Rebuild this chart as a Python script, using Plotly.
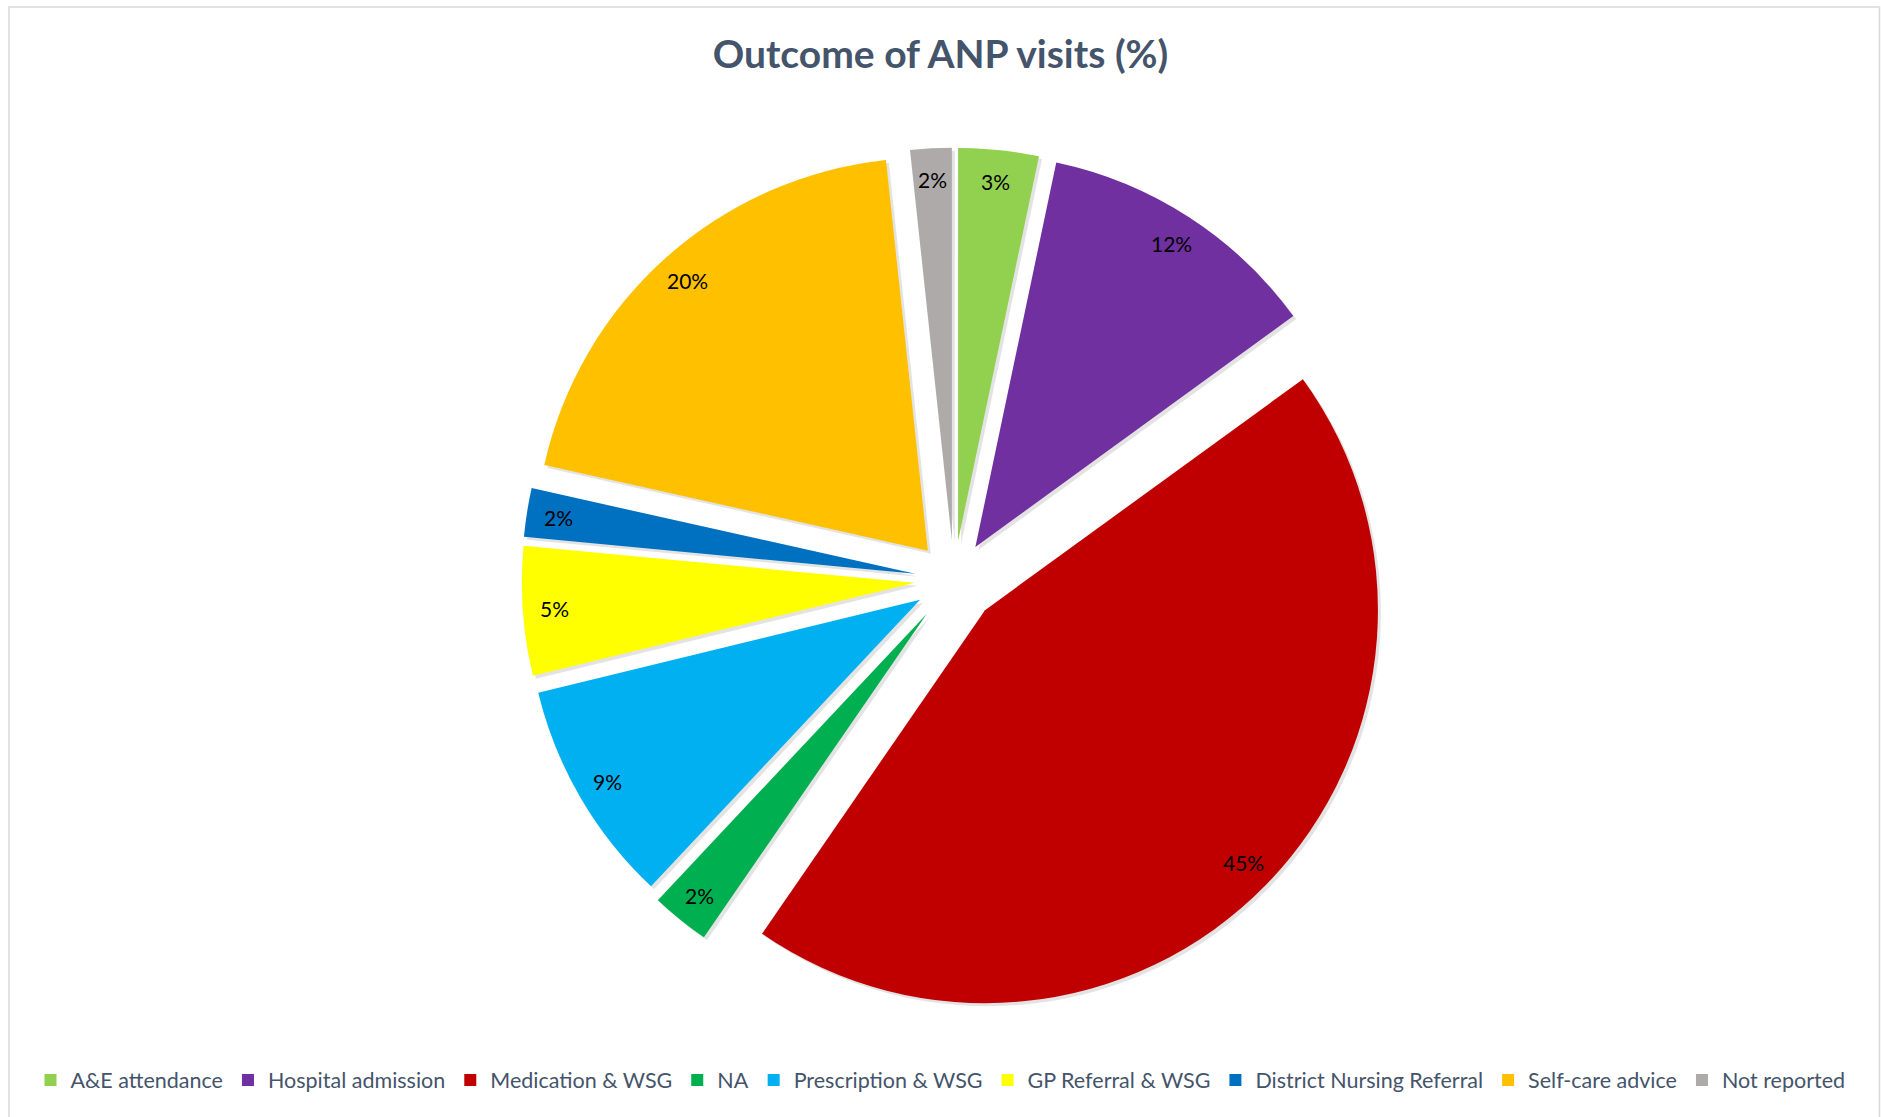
import math
import plotly.graph_objects as go

categories = ["A&E attendance", "Hospital admission", "Medication & WSG", "NA",
              "Prescription & WSG", "GP Referral & WSG", "District Nursing Referral",
              "Self-care advice", "Not reported"]
values = [3.3, 11.7, 44.6, 2.4, 9.2, 5.3, 2.0, 19.8, 1.7]
colors = ["#92D050", "#7030A0", "#C00000", "#00B050", "#00B0F0",
          "#FFFF00", "#0070C0", "#FFC000", "#AEAAAA"]
pulls = [0.10, 0.10, 0.11, 0.11, 0.10, 0.10, 0.10, 0.10, 0.10]
title_text = "Outcome of ANP visits (%)"

W, H = 1881, 1117
FONT = "Lato, 'Open Sans', sans-serif"

# pie geometry (pixels)
cx, cy, r = 954, 580, 393
ext = r * (1 + max(pulls))
dom_x = [(cx - ext) / W, (cx + ext) / W]
dom_y = [1 - (cy + ext) / H, 1 - (cy - ext) / H]
sh = 3
dom_x_s = [(cx - ext + sh) / W, (cx + ext + sh) / W]
dom_y_s = [1 - (cy + ext + sh) / H, 1 - (cy - ext + sh) / H]

fig = go.Figure()
# soft shadow
fig.add_trace(go.Pie(
    labels=categories, values=values, sort=False, direction="clockwise",
    rotation=0, pull=pulls, domain=dict(x=dom_x_s, y=dom_y_s),
    marker=dict(colors=["rgba(0,0,0,0.11)"] * len(values), line=dict(width=0)),
    textinfo="none", hoverinfo="skip", showlegend=False,
))
fig.add_trace(go.Pie(
    labels=categories, values=values, sort=False, direction="clockwise",
    rotation=0, pull=pulls, domain=dict(x=dom_x, y=dom_y),
    marker=dict(colors=colors, line=dict(width=0)),
    textinfo="none",
    showlegend=True,
))

# data labels placed near the outer rim, like Excel's best-fit labels
total = sum(values)
annotations = []
cum = 0.0
for v, p in zip(values, pulls):
    mid = (cum + v / 2) / total * 2 * math.pi
    cum += v
    rad = (p + 0.92) * r
    x = cx + rad * math.sin(mid)
    y = cy - rad * math.cos(mid)
    annotations.append(dict(
        x=x / W, y=1 - y / H, xref="paper", yref="paper",
        text=f"{round(v / total * 100)}%", showarrow=False,
        xanchor="center", yanchor="middle",
        font=dict(family=FONT, size=21, color="#000000")))

fig.update_layout(
    width=W, height=H,
    margin=dict(l=0, r=0, t=0, b=0),
    paper_bgcolor="white", plot_bgcolor="white",
    title=dict(text="<b>" + title_text + "</b>", x=0.5, xanchor="center",
               y=1 - 54 / H, yanchor="middle",
               font=dict(family=FONT, size=39, color="#44546A")),
    legend=dict(orientation="h", x=0.5, xanchor="center",
                y=1 - 1080 / H, yanchor="middle",
                font=dict(family=FONT, size=21.5, color="#44546A"),
                itemwidth=30, tracegroupgap=0, traceorder="normal"),
    annotations=annotations,
    shapes=[dict(type="rect", xref="paper", yref="paper",
                 x0=9 / W, x1=1 - 1.5 / W, y0=-0.05, y1=1 - 7 / H,
                 line=dict(color="#D9D9D9", width=1.5), layer="below")],
)

fig.write_html("out.html", config={"displayModeBar": False},
               post_script="document.body.style.margin='0';")
